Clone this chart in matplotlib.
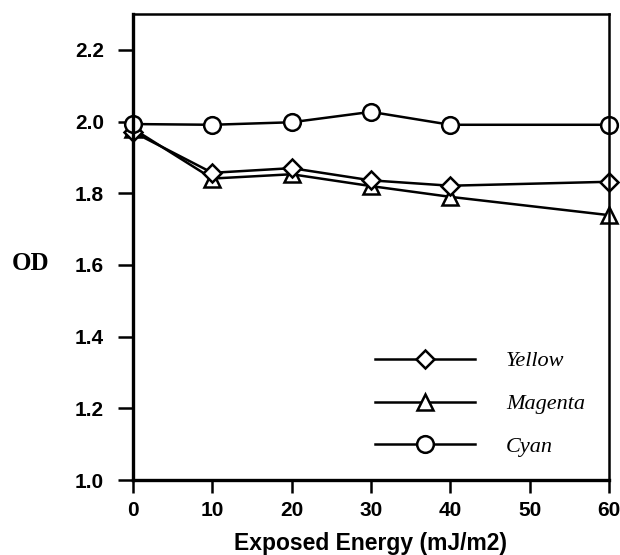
import matplotlib
matplotlib.use("Agg")
import matplotlib.pyplot as plt

# data
energy = [0, 10, 20, 30, 40, 60]
od_yellow = [1.971, 1.857, 1.870, 1.836, 1.821, 1.832]
od_magenta = [1.980, 1.841, 1.853, 1.820, 1.790, 1.739]
od_cyan = [1.993, 1.991, 1.998, 2.027, 1.991, 1.991]

x_ticks = [0, 10, 20, 30, 40, 50, 60]
y_ticks = [1.0, 1.2, 1.4, 1.6, 1.8, 2.0, 2.2]

fig = plt.figure(figsize=(6.2, 5.55), dpi=100)
ax = fig.add_axes([0.2145, 0.135, 0.7675, 0.8398])

style = dict(color="black", lw=1.8, mfc="white", mec="black", mew=1.8, clip_on=False)
l_mag, = ax.plot(energy, od_magenta, marker="^", ms=12, label="Magenta", **style)
l_yel, = ax.plot(energy, od_yellow, marker="D", ms=9, label="Yellow", **style)
l_cya, = ax.plot(energy, od_cyan, marker="o", ms=12, label="Cyan", **style)

ax.set_xlim(0, 60)
ax.set_ylim(1.0, 2.3)
ax.set_xticks(x_ticks)
ax.set_yticks(y_ticks)
ax.set_yticklabels([f"{v:.1f}" for v in y_ticks])

for side in ["left", "bottom"]:
    ax.spines[side].set_linewidth(2.4)
for side in ["right", "top"]:
    ax.spines[side].set_linewidth(1.8)

ax.tick_params(axis="x", direction="out", length=9, width=1.8, pad=6)
ax.tick_params(axis="y", direction="out", length=11, width=1.8, pad=10)
for lab in ax.get_xticklabels() + ax.get_yticklabels():
    lab.set_fontfamily("Liberation Sans")
    lab.set_fontweight("bold")
    lab.set_fontsize(15)

ax.set_xlabel("Exposed Energy (mJ/m2)", fontfamily="Liberation Sans",
              fontweight="bold", fontsize=16.5, labelpad=9)
fig.text(12 / 620, 1 - 263 / 555, "OD", fontfamily="Liberation Serif",
         fontweight="bold", fontsize=18, va="center", ha="left")

ax.legend([l_yel, l_mag, l_cya], ["Yellow", "Magenta", "Cyan"],
          loc="center left", bbox_to_anchor=(375 / 620, 1 - 404 / 555),
          bbox_transform=fig.transFigure, frameon=False, borderpad=0,
          borderaxespad=0, handlelength=4.5, handletextpad=1.4,
          labelspacing=1.0,
          prop={"family": "Liberation Serif", "style": "italic", "size": 16})

fig.savefig("out.png", dpi=100)
